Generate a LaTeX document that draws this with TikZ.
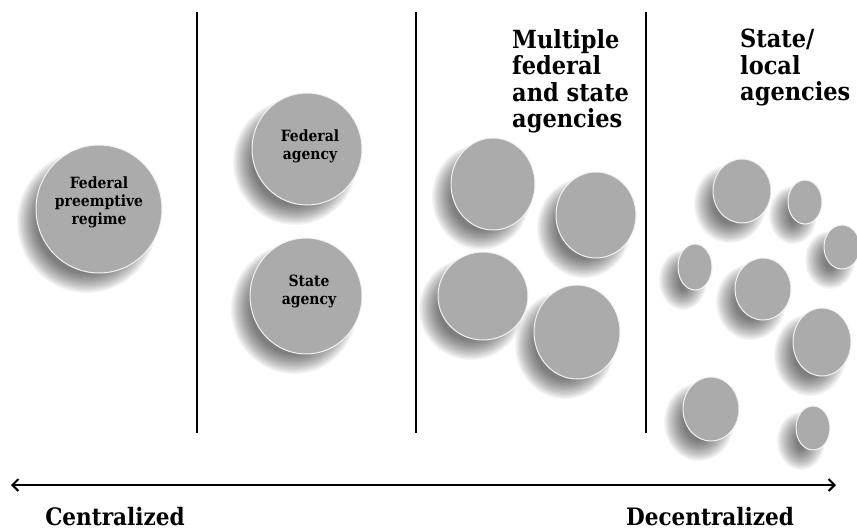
\documentclass[tikz,border=0pt]{standalone}
\usepackage{fontspec}
\setmainfont{DejaVu Serif Condensed}
\usetikzlibrary{shapes.geometric, arrows.meta, positioning}

\begin{document}
\begin{tikzpicture}[
    x=1pt, y=-1pt,
    font=\bfseries,
    disc/.style={ellipse, draw=white!90!gray, line width=1pt, fill=gray!66, inner sep=0pt},
    disc_text/.style={inner sep=0pt, align=center, font=\bfseries\fontsize{15.5}{18}\selectfont},
    shadow_blob/.style={fill=black, opacity=0.045},
    header/.style={anchor=north west, inner sep=0pt, align=left, font=\bfseries\fontsize{25}{26.5}\selectfont},
    end_label/.style={anchor=base, inner sep=0pt, font=\bfseries\fontsize{24}{26}\selectfont},
    divider/.style={line width=1.8pt},
    arrow/.style={{Straight Barb[length=6pt, width=12pt]}-{Straight Barb[length=6pt, width=12pt]}, line width=2pt}
]
    \useasboundingbox (0,0) rectangle (857,531);

    % Discs: name/x/y/rx/ry
    \def\discs{fpr/99/209/63/64, fed/307/149/55/56, state/306/296/56/58,
        m1/493/184/42/46, m2/596/215/40/43, m3/483/296/45/44, m4/577/332/43/47,
        s1/742/191/29/32, s2/805/202/17/22, s3/842/247/18/22, s4/695/267/17/23,
        s5/763/289/28/31, s6/822/342/29/34, s7/711/409/28/32, s8/813/428/17/22}

    % Shadows
    \foreach \n/\cx/\cy/\rx/\ry in \discs {
        \foreach \k in {0,...,15}
            \fill[shadow_blob] (\cx-12,\cy+13) ellipse ({\rx+7-1.3*\k} and {\ry+7-1.3*\k});
    }

    % Nodes
    \foreach \n/\cx/\cy/\rx/\ry in \discs
        \node[disc, minimum width=2*\rx, minimum height=2*\ry] (\n) at (\cx,\cy) {};

    \node[disc_text] (fpr_text) at ([xshift=0pt, yshift=7pt]fpr.center) {Federal\\preemptive\\regime};
    \node[disc_text] (fed_text) at ([xshift=3pt, yshift=3pt]fed.center) {Federal\\agency};
    \node[disc_text] (state_text) at ([xshift=3pt, yshift=5pt]state.center) {State\\agency};

    % Headers
    \node[header] (multi) at (512,29) {Multiple\\federal\\and state\\agencies};
    \node[header] (local) at (740,29) {State/\\local\\agencies};

    % Dividers
    \foreach \x in {197,416,646}
        \draw[divider] (\x,12) -- (\x,433);

    % Scale
    \coordinate (scale_west) at (11,485);
    \coordinate (scale_east) at (836,485);
    \draw[arrow] (scale_west) -- (scale_east);
    \node[end_label] (central) at (115,525) {Centralized};
    \node[end_label] (decentral) at (710,525) {Decentralized};

\end{tikzpicture}
\end{document}
